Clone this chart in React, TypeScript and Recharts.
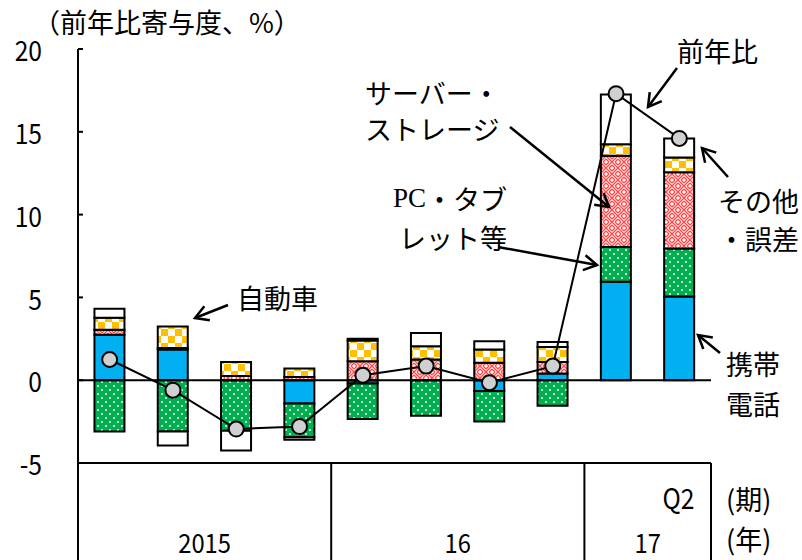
import React from "react";
import {
  ComposedChart,
  Bar,
  Line,
  XAxis,
  YAxis,
  ReferenceLine,
} from "recharts";

const quarters = ["Q1", "Q2", "Q3", "Q4", "Q1", "Q2", "Q3", "Q4", "Q1", "Q2"];
const years = ["2015", "2015", "2015", "2015", "16", "16", "16", "16", "17", "17"];

// 寄与度 (前年比、%)
const mobile = [2.75, 1.85, 0, -1.4, -0.2, 0, -0.65, 0.4, 5.95, 5.05];
const pcTablet = [-3.1, -3.1, -3.05, -2.05, -2.15, -2.15, -1.85, -1.55, 2.1, 2.9];
const server = [0.3, 0.1, 0.25, 0.2, 1.15, 1.25, 1.05, 0.7, 5.5, 4.6];
const auto = [0.72, 1.3, 0.85, 0.5, 1.25, 0.8, 0.8, 0.9, 0.7, 0.9];
const other = [0.55, -0.85, -1.2, -0.15, 0.1, 0.8, 0.5, 0.3, 3.0, 1.15];
const yoy = [1.25, -0.6, -2.95, -2.8, 0.3, 0.85, -0.15, 0.85, 17.3, 14.6];

const yTicks = [-5, 0, 5, 10, 15, 20];

const data = quarters.map((q, i) => ({
  q,
  year: years[i],
  mobile: mobile[i],
  pcTablet: pcTablet[i],
  server: server[i],
  auto: auto[i],
  other: other[i],
  yoy: yoy[i],
}));

const W = 802;
const H = 560;
const LEFT = 78;
const RIGHT = 91;
const TOP = 49;
const XH = 97;
const BAND = (W - LEFT - RIGHT) / quarters.length;

const jpFont = "'Noto Sans CJK JP', sans-serif";

// narrow gothic-looking numerals
const NumText = ({ x, y, anchor = "middle", size = 28, children }: any) => (
  <text
    transform={`translate(${x},${y}) scale(0.88,1)`}
    textAnchor={anchor}
    dominantBaseline="central"
    fontSize={size}
    fontFamily={jpFont}
    fill="#000"
  >
    {children}
  </text>
);

const YTick = (props: any) => {
  const { y, payload } = props;
  return (
    <g>
      <line x1={LEFT} x2={LEFT + 5} y1={y} y2={y} stroke="#000" strokeWidth={2} />
      <NumText x={LEFT - 36} y={y} anchor="end">
        {payload.value < 0 ? "-" + Math.abs(payload.value) : payload.value}
      </NumText>
    </g>
  );
};

const XTick = (props: any) => {
  const { x, y, index } = props;
  const last = quarters.length - 1;
  const left = x - BAND / 2;
  const first = index === 0 || years[index] !== years[index - 1];
  let n = 0;
  if (first) {
    while (index + n < years.length && years[index + n] === years[index]) n++;
  }
  return (
    <g>
      {index === last && (
        <NumText x={x - 1} y={y + 34}>
          {quarters[index]}
        </NumText>
      )}
      {first && <line x1={left} x2={left} y1={y} y2={H} stroke="#000" strokeWidth={2} />}
      {first && (
        <NumText x={left + (n * BAND) / 2} y={y + 78} size={27}>
          {years[index]}
        </NumText>
      )}
      {index === last && <line x1={x + BAND / 2} x2={x + BAND / 2} y1={y} y2={H} stroke="#000" strokeWidth={2} />}
    </g>
  );
};

const arrow = (x1: number, y1: number, x2: number, y2: number, key: string) => {
  const a = Math.atan2(y2 - y1, x2 - x1);
  const L = 15;
  const s = Math.PI / 6;
  const p1 = [x2 - L * Math.cos(a - s), y2 - L * Math.sin(a - s)];
  const p2 = [x2 - L * Math.cos(a + s), y2 - L * Math.sin(a + s)];
  return (
    <g key={key}>
      <line x1={x1} y1={y1} x2={x2} y2={y2} stroke="#000" strokeWidth={2.5} />
      <polyline points={`${p1[0]},${p1[1]} ${x2},${y2} ${p2[0]},${p2[1]}`} fill="none" stroke="#000" strokeWidth={2.5} />
    </g>
  );
};

const Patterns = () => (
  <svg width={0} height={0} style={{ position: "absolute" }}>
    <defs>
      <pattern id="pcDots" width={8} height={8} patternUnits="userSpaceOnUse">
        <rect width={8} height={8} fill="#00B050" />
        <circle cx={2} cy={2} r={1} fill="#fff" />
        <circle cx={6} cy={6} r={1} fill="#fff" />
      </pattern>
      <pattern id="serverWeave" width={12} height={12} patternUnits="userSpaceOnUse">
        <rect width={12} height={12} fill="#fff" />
        <path d="M0,3 L3,0 M0,6 L6,0 M3,6 L6,3 M6,0 L12,6 M6,3 L9,6 M9,0 L12,3 M0,6 L6,12 M0,9 L3,12 M3,6 L6,9 M6,12 L12,6 M6,9 L9,6 M9,12 L12,9" fill="none" stroke="#FF4545" strokeWidth={1.3} />
      </pattern>
      <pattern id="autoCheck" width={14} height={14} patternUnits="userSpaceOnUse">
        <rect width={14} height={14} fill="#fff" />
        <rect width={7} height={7} fill="#FFC000" />
        <rect x={7} y={7} width={7} height={7} fill="#FFC000" />
      </pattern>
    </defs>
  </svg>
);

export default function App() {
  return (
    <div style={{ position: "relative", width: W, height: H, background: "#fff" }}>
      <style>{"body{margin:0}"}</style>
      <Patterns />
      <ComposedChart
        width={W}
        height={H}
        data={data}
        stackOffset="sign"
        barCategoryGap="26%"
        margin={{ top: TOP, right: RIGHT, bottom: 0, left: 0 }}
      >
        <XAxis
          dataKey="q"
          height={XH}
          interval={0}
          tickSize={0}
          tickMargin={0}
          tick={<XTick />}
          axisLine={{ stroke: "#000", strokeWidth: 2 }}
          tickLine={false}
        />
        <YAxis
          width={LEFT}
          domain={[-5, 20]}
          ticks={yTicks}
          interval={0}
          tickSize={0}
          tickMargin={0}
          tick={<YTick />}
          axisLine={{ stroke: "#000", strokeWidth: 2 }}
          tickLine={false}
        />
        <ReferenceLine y={0} stroke="#000" strokeWidth={2} />
        <Bar dataKey="mobile" stackId="a" fill="#00B0F0" stroke="#000" strokeWidth={2} isAnimationActive={false} />
        <Bar dataKey="pcTablet" stackId="a" fill="url(#pcDots)" stroke="#000" strokeWidth={2} isAnimationActive={false} />
        <Bar dataKey="server" stackId="a" fill="url(#serverWeave)" stroke="#000" strokeWidth={2} isAnimationActive={false} />
        <Bar dataKey="auto" stackId="a" fill="url(#autoCheck)" stroke="#000" strokeWidth={2} isAnimationActive={false} />
        <Bar dataKey="other" stackId="a" fill="#fff" stroke="#000" strokeWidth={2} isAnimationActive={false} />
        <Line
          dataKey="yoy"
          type="linear"
          stroke="#000"
          strokeWidth={2}
          dot={{ r: 7.5, fill: "#D0D0D0", stroke: "#000", strokeWidth: 2 }}
          isAnimationActive={false}
        />
      </ComposedChart>
      <svg
        width={W}
        height={H}
        style={{ position: "absolute", left: 0, top: 0, pointerEvents: "none" }}
        fontFamily={jpFont}
        fontSize={27}
      >
        <text x={33} y={21} dominantBaseline="central">（前年比寄与度、%）</text>
        <text x={677} y={50} dominantBaseline="central">前年比</text>
        <text x={365} y={92} dominantBaseline="central">サーバー・</text>
        <text x={365} y={128} dominantBaseline="central">ストレージ</text>
        <text x={507} y={198} textAnchor="end" dominantBaseline="central">
          <tspan fontFamily="'Liberation Serif', serif">PC</tspan>・タブ
        </text>
        <text x={507} y={237} textAnchor="end" dominantBaseline="central">レット等</text>
        <text x={718} y={200} dominantBaseline="central">その他</text>
        <text x={718} y={238} dominantBaseline="central">・誤差</text>
        <text x={237} y={297} dominantBaseline="central">自動車</text>
        <text x={726} y={363} dominantBaseline="central">携帯</text>
        <text x={726} y={403} dominantBaseline="central">電話</text>
        <text x={726} y={498} dominantBaseline="central">(期)</text>
        <text x={726} y={538} dominantBaseline="central">(年)</text>
        {arrow(677, 68, 648, 107, "yoy")}
        {arrow(510, 127, 609, 207, "server")}
        {arrow(498, 247, 597, 265, "pc")}
        {arrow(728, 177, 702, 148, "other")}
        {arrow(228, 305, 195, 318, "auto")}
        {arrow(720, 353, 698, 335, "mobile")}
      </svg>
    </div>
  );
}
